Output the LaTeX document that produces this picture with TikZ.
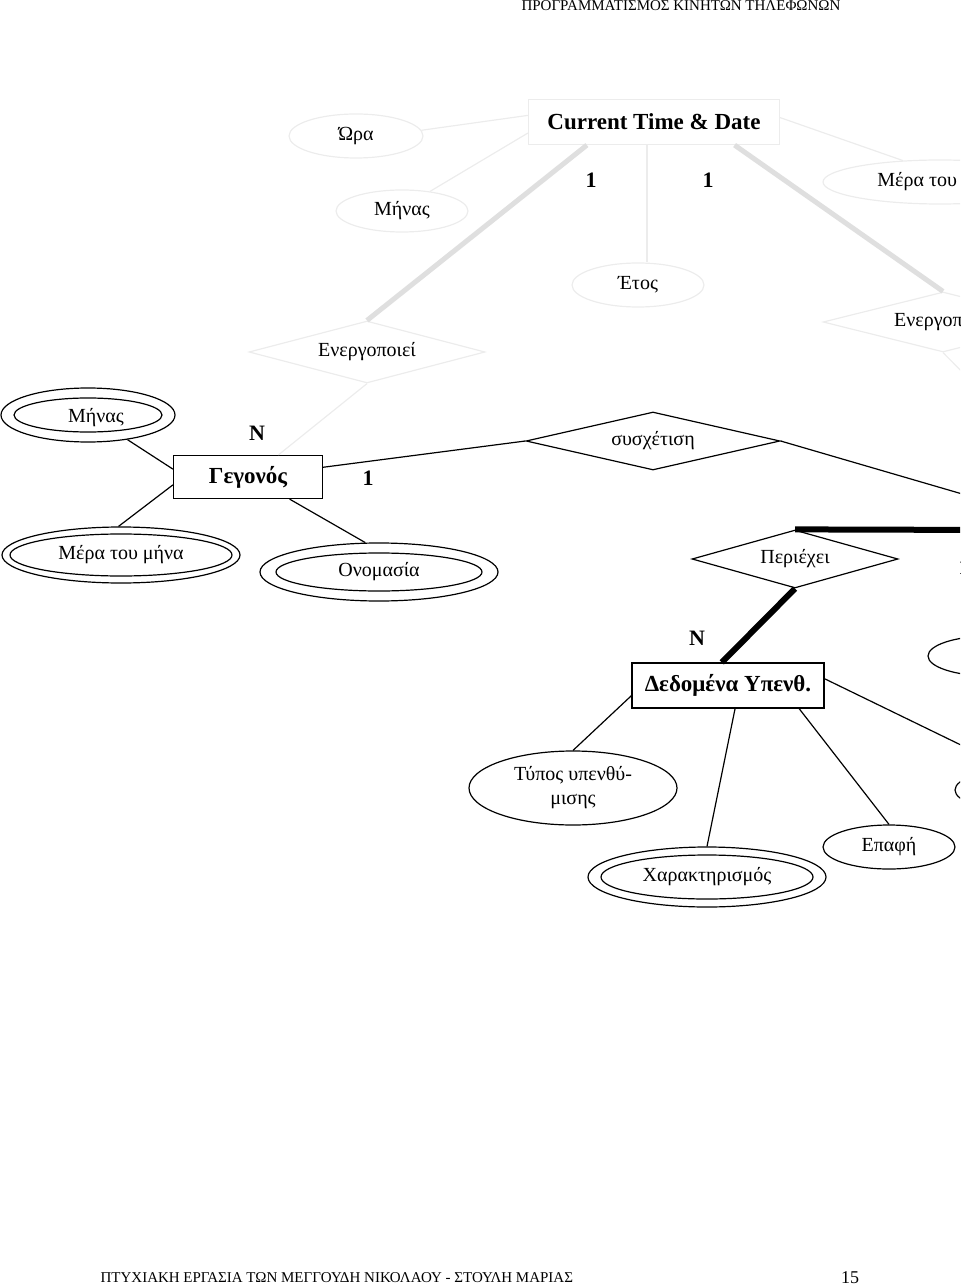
\documentclass[tikz,border=0pt]{standalone}
\usepackage{fontspec}
\setmainfont{Liberation Serif}
\usepackage{tikz}
\usetikzlibrary{calc}
\usetikzlibrary{shapes.geometric}

\begin{document}
\begin{tikzpicture}[x=0.5pt,y=-0.5pt,line width=0.6pt,
      attr style/.style={ellipse,draw=black,inner sep=0pt,
        font=\fontsize{10}{12}\selectfont},
      faint attr/.style={attr style,draw=gray!15},
      multi attr/.style 2 args={attr style,path picture={
          \draw let \p1=($(path picture bounding box.north east)-(path picture bounding box.center)$)
          in (path picture bounding box.center) ellipse [x radius=\x1-#1, y radius=\y1-#2];}},
      ent style/.style={rectangle,draw=black,inner sep=0pt,
        font=\fontsize{11.5}{13}\selectfont\bfseries},
      rel style/.style={diamond,draw=black,inner sep=0pt,aspect=4,
        font=\fontsize{10}{12}\selectfont},
      faint rel/.style={rel style,draw=gray!15},
      card/.style={font=\fontsize{11}{13}\selectfont\bfseries},
      faint line/.style={draw=gray!15},
      faint heavy/.style={draw=gray!25,line width=2.5pt},
      heavy/.style={line width=3pt},
      page text/.style={inner sep=0pt,font=\fontsize{7.5}{9}\selectfont}
      ]
      \useasboundingbox (0,0) rectangle (960,1288);
      \clip (0,0) rectangle (960,1288);

      % header and footer
      \node[page text] (header) at (681,6) {ΠΡΟΓΡΑΜΜΑΤΙΣΜΟΣ ΚΙΝΗΤΩΝ ΤΗΛΕΦΩΝΩΝ};
      \node[page text,anchor=west] (footer) at (100,1278) {ΠΤΥΧΙΑΚΗ ΕΡΓΑΣΙΑ ΤΩΝ ΜΕΓΓΟΥΔΗ ΝΙΚΟΛΑΟΥ - ΣΤΟΥΛΗ ΜΑΡΙΑΣ};
      \node[page text,font=\fontsize{9}{10}\selectfont] (pagenum) at (850,1278) {15};

      % faded upper part
      \node[ent style,draw=gray!15,minimum width=125.5pt,minimum height=22.5pt] (ctd) at (654,122) {Current Time \& Date};
      \node[faint attr,minimum width=67pt,minimum height=22pt] (ora) at (356,136) {Ώρα};
      \node[faint attr,minimum width=66pt,minimum height=21pt] (mhnas) at (402,211) {Μήνας};
      \node[faint attr,minimum width=66pt,minimum height=22pt] (etos) at (638,285) {Έτος};
      \node[faint attr,minimum width=117pt,minimum height=22pt] (mera) at (940,182) {Μέρα του μήνα};
      \node[faint rel,minimum width=118pt,minimum height=31pt] (energ) at (367,352) {Ενεργοποιεί};
      \node[faint rel,minimum width=120pt,minimum height=30pt] (energb) at (943,322) {Ενεργοποιεί};
      \node[card] (ca) at (591,180) {1};
      \node[card] (cb) at (708,180) {1};

      \draw[faint line] (ora.5) -- (ctd.177);
      \draw[faint line] (mhnas.35) -- (ctd.185);
      \draw[faint line] ([xshift=4.5pt]etos.north) -- ([xshift=4.5pt]etos.north |- ctd.south);
      \draw[faint line] (ctd.2) -- (mera.150);
      \draw[faint heavy] (ctd.-161) -- (energ.north);
      \draw[faint heavy] (ctd.-16) -- (energb.north);
      \coordinate (offa) at (1000,410);
      \draw[faint line] (energb.south) -- (offa);

      % entities and attributes
      \node[ent style,minimum width=74.5pt,minimum height=21.5pt] (gegonos) at (248,477) {Γεγονός};
      \node[multi attr={6.5pt}{5pt},minimum width=87pt,minimum height=27pt,text depth=0pt] (mhnasb) at (88,415) {\hspace*{8pt}Μήνας};
      \node[multi attr={4pt}{3.5pt},minimum width=119pt,minimum height=28pt] (meramina) at (121,555) {Μέρα του μήνα};
      \node[multi attr={8pt}{5pt},minimum width=119pt,minimum height=29pt] (onomasia) at (379,572) {Ονομασία};
      \node[card] (cn) at (257,433) {N};
      \node[card] (cc) at (368,478) {1};
      \draw[faint line] (energ.south) -- (gegonos.36);

      \node[rel style,minimum width=127pt,minimum height=29pt] (sysx) at (653,441) {συσχέτιση};
      \node[rel style,minimum width=103pt,minimum height=29pt] (periexei) at (795,559) {Περιέχει};
      \node[card] (cm) at (697,638) {N};
      \node[card] (cd) at (964,567) {1};

      \node[ent style,minimum width=96pt,minimum height=22.5pt] (dedom) at (728,685.5) {Δεδομένα Υπενθ.};
      \node[attr style,align=center,minimum width=104pt,minimum height=37pt] (typos) at (573,788) {Τύπος υπενθύ-\\μισης};
      \node[multi attr={6.5pt}{4pt},minimum width=119pt,minimum height=30pt] (xarakt) at (707,877) {Χαρακτηρισμός};
      \node[attr style,minimum width=66pt,minimum height=22pt] (epafi) at (889,847) {Επαφή};
      \node[attr style,minimum width=62pt,minimum height=20pt] (cuta) at (990,656) {};
      \node[attr style,minimum width=60pt,minimum height=20pt] (cutb) at (1015,790) {};

      \draw (mhnasb.-32) -- (gegonos.174);
      \draw (meramina.95) -- (gegonos.-174);
      \draw (gegonos.-28) -- (onomasia.115);
      \draw (gegonos) -- (sysx.west);
      \coordinate (offb) at (1000,505);
      \draw (sysx.east) -- (offb);
      \coordinate (offc) at (1000,530);
      \draw[heavy] (periexei.north) -- (offc);
      \draw[heavy] (periexei.south) -- (dedom.105);
      \draw (dedom.-174) -- (typos.north);
      \draw (dedom.-73) -- (xarakt.north);
      \draw (dedom.-18.6) -- (epafi.north);
      \coordinate (offd) at (1000,764);
      \draw (dedom.4.5) -- (offd);

    \end{tikzpicture}
\end{document}
